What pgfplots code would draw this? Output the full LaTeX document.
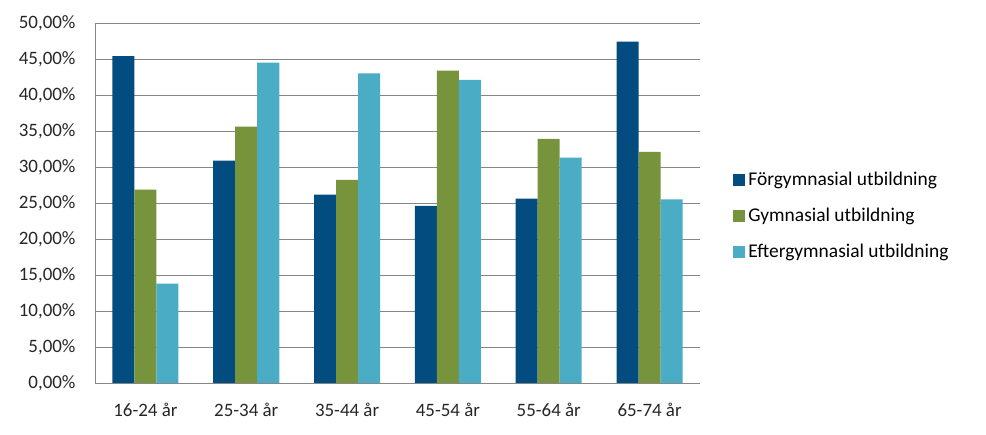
\documentclass[border=0pt]{standalone}
\usepackage{pgfplots}
\pgfplotsset{compat=1.18}
\usepackage{fontspec}
\setmainfont{Carlito}
\definecolor{cA}{HTML}{024C7F}
\definecolor{cB}{HTML}{77933C}
\definecolor{cC}{HTML}{4BACC6}
\definecolor{gridc}{HTML}{868686}
\begin{document}
\begin{tikzpicture}
\path[use as bounding box] (0,0) rectangle (986bp,435bp);
\begin{axis}[
  at={(95bp,52bp)}, anchor=south west,
  scale only axis, width=605bp, height=360bp,
  ybar=0pt, bar width=22bp,
  xmin=-0.5, xmax=5.5, ymin=0, ymax=50,
  xtick={0,1,2,3,4,5},
  xticklabels={16-24 år,25-34 år,35-44 år,45-54 år,55-64 år,65-74 år},
  ytick={0,5,10,15,20,25,30,35,40,45,50},
  yticklabels={0{,}00\%,5{,}00\%,10{,}00\%,15{,}00\%,20{,}00\%,25{,}00\%,30{,}00\%,35{,}00\%,40{,}00\%,45{,}00\%,50{,}00\%},
  major tick length=0pt,
  ymajorgrids, grid style={gridc, line width=0.9bp},
  axis x line*=bottom, axis y line*=left,
  axis line style={gridc, line width=0.9bp, -},
  tick label style={font=\fontsize{19}{22}\selectfont, text=black!85},
  xticklabel style={yshift=-17bp},
  yticklabel style={xshift=-16bp},
  legend style={at={(1.05,0.464)}, anchor=west, draw=none, fill=none,
    font=\fontsize{19.5}{22}\selectfont, row sep=17bp, cells={anchor=west},
    nodes={inner xsep=3bp}},
  legend cell align=left,
  legend image code/.code={\fill[#1] (0bp,-6bp) rectangle (12bp,6bp);},
]
\addplot[fill=cA, draw=none] coordinates {(0,45.4) (1,30.9) (2,26.15) (3,24.6) (4,25.6) (5,47.4)};
\addplot[fill=cB, draw=none] coordinates {(0,26.85) (1,35.6) (2,28.2) (3,43.4) (4,33.9) (5,32.1)};
\addplot[fill=cC, draw=none] coordinates {(0,13.8) (1,44.5) (2,43.0) (3,42.1) (4,31.3) (5,25.5)};
\legend{Förgymnasial utbildning, Gymnasial utbildning, Eftergymnasial utbildning}
\end{axis}
\end{tikzpicture}
\end{document}
